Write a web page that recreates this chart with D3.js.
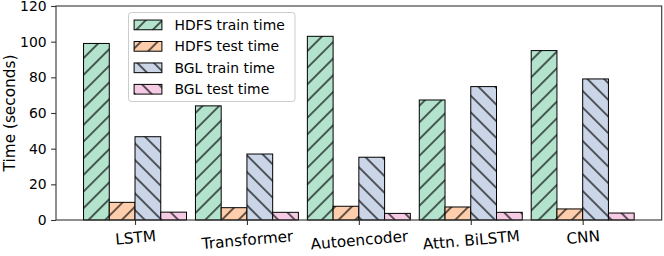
<!DOCTYPE html>
<html><head><meta charset="utf-8">
<script src="https://cdn.jsdelivr.net/npm/d3@7"></script>
<style>
html,body{margin:0;padding:0;background:#fff;}
svg{display:block;font-family:"DejaVu Sans",sans-serif;}
</style></head>
<body>
<svg id="chart" width="664" height="256"></svg>
<script>
const categories = ["LSTM", "Transformer", "Autoencoder", "Attn. BiLSTM", "CNN"];
const seriesNames = ["HDFS train time", "HDFS test time", "BGL train time", "BGL test time"];
const hdfsTrain = [99, 64, 103, 67.3, 95];
const hdfsTest = [9.9, 6.9, 7.7, 7.3, 6.2];
const bglTrain = [46.7, 37, 35.2, 74.8, 79.1];
const bglTest = [4.4, 4.3, 3.7, 4.3, 3.9];
const yTicks = [0, 20, 40, 60, 80, 100, 120];

const seriesValues = [hdfsTrain, hdfsTest, bglTrain, bglTest];
const colors = ["#b3e2cd", "#fdcdac", "#cbd5e8", "#f4cae4"];
const hatches = ["fwd", "fwd", "back", "back"];

const svg = d3.select("#chart");
const L = 56, R = 661.7, T = 6, B = 220;
const barW = 0.23;
const x = d3.scaleLinear().domain([-0.706, 4.706]).range([L, R]);
const y = d3.scaleLinear().domain([0, 120]).range([B, T]);

const defs = svg.append("defs");
const period = 16.67 / Math.SQRT2;
[["fwd", 45], ["back", -45]].forEach(([id, ang]) => {
  const p = defs.append("pattern").attr("id", id)
    .attr("patternUnits", "userSpaceOnUse")
    .attr("width", period).attr("height", period)
    .attr("patternTransform", `rotate(${ang})`);
  p.append("line").attr("x1", period / 2).attr("x2", period / 2)
    .attr("y1", -1).attr("y2", period + 1)
    .attr("stroke", "#000").attr("stroke-width", 1.2);
});

// bars
seriesValues.forEach((vals, k) => {
  const g = svg.append("g");
  const data = vals.map((v, i) => ({ i, v }));
  const xs = d => x(d.i + (k - 1.5) * barW - barW / 2);
  const ws = x(barW) - x(0);
  g.selectAll("rect.f").data(data).join("rect")
    .attr("x", xs).attr("width", ws)
    .attr("y", d => y(d.v)).attr("height", d => y(0) - y(d.v))
    .attr("fill", colors[k]);
  g.selectAll("rect.h").data(data).join("rect")
    .attr("x", xs).attr("width", ws)
    .attr("y", d => y(d.v)).attr("height", d => y(0) - y(d.v))
    .attr("fill", `url(#${hatches[k]})`)
    .attr("stroke", "#000").attr("stroke-width", 1);
});

// frame
svg.append("rect").attr("x", L).attr("y", T).attr("width", R - L).attr("height", B - T)
  .attr("fill", "none").attr("stroke", "#333").attr("stroke-width", 1.1);

// y axis
const yAxis = svg.append("g").attr("transform", `translate(${L},0)`)
  .call(d3.axisLeft(y).tickValues(yTicks).tickSize(4.9).tickPadding(4.5));
yAxis.select(".domain").remove();
yAxis.selectAll("line").attr("stroke", "#333").attr("stroke-width", 1.1);
yAxis.selectAll("text").attr("font-size", "13.9px").attr("fill", "#000")
  .attr("font-family", "DejaVu Sans");

// x axis (rotated labels, top of rotated box aligned like matplotlib va=top)
const xAxis = svg.append("g").attr("transform", `translate(0,${B})`)
  .call(d3.axisBottom(x).tickValues(d3.range(categories.length))
    .tickFormat(i => categories[i]).tickSize(4.9).tickPadding(4.5));
xAxis.select(".domain").remove();
xAxis.selectAll("line").attr("stroke", "#333").attr("stroke-width", 1.1);
xAxis.selectAll("text").attr("font-size", "15.3px").attr("fill", "#000")
  .attr("font-family", "DejaVu Sans")
  .attr("y", 0).attr("dy", "0.36em")
  .attr("transform", function () {
    const w = this.getComputedTextLength();
    const cy = 10 + (w * Math.sin(5 * Math.PI / 180) + 11.2) / 2;
    return `translate(0,${cy}) rotate(-5)`;
  });

// y label
svg.append("text").attr("transform", `translate(14.5,${(T + B) / 2}) rotate(-90)`)
  .attr("text-anchor", "middle").attr("font-size", "15.3px").attr("fill", "#000")
  .text("Time (seconds)");

// legend
const lg = svg.append("g").attr("transform", "translate(128.5,12.5)");
lg.append("rect").attr("width", 166.5).attr("height", 89).attr("rx", 2.8)
  .attr("fill", "#fff").attr("fill-opacity", 0.8).attr("stroke", "#ccc").attr("stroke-width", 1);
seriesNames.forEach((name, k) => {
  const cy = 12.4 + k * 21.45;
  lg.append("rect").attr("x", 5.6).attr("y", cy - 4.85).attr("width", 27.8).attr("height", 9.7)
    .attr("fill", colors[k]);
  lg.append("rect").attr("x", 5.6).attr("y", cy - 4.85).attr("width", 27.8).attr("height", 9.7)
    .attr("fill", `url(#${hatches[k]})`).attr("stroke", "#000").attr("stroke-width", 1);
  lg.append("text").attr("x", 46).attr("y", cy).attr("dy", "0.35em")
    .attr("font-size", "13.9px").attr("fill", "#000").text(name);
});
</script>
</body></html>
